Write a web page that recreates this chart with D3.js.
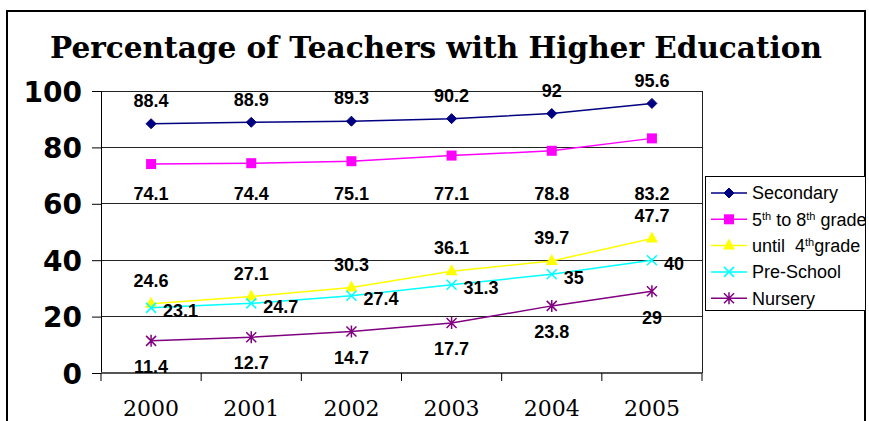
<!DOCTYPE html>
<html>
<head>
<meta charset="utf-8">
<script src="https://cdn.jsdelivr.net/npm/d3@7/dist/d3.min.js"></script>
<style>
  html, body { margin: 0; padding: 0; background: #fff; }
  svg { display: block; }
</style>
</head>
<body>
<svg id="chart" width="869" height="421"></svg>
<script>
// Chart data
const years = ["2000", "2001", "2002", "2003", "2004", "2005"];
const secondary = [88.4, 88.9, 89.3, 90.2, 92, 95.6];
const grade5to8 = [74.1, 74.4, 75.1, 77.1, 78.8, 83.2];
const until4 = [24.6, 27.1, 30.3, 36.1, 39.7, 47.7];
const preSchool = [23.1, 24.7, 27.4, 31.3, 35, 40];
const nursery = [11.4, 12.7, 14.7, 17.7, 23.8, 29];
const yTicks = [0, 20, 40, 60, 80, 100];

const series = [
  { name: "Secondary", values: secondary, color: "#000080", marker: "diamond", label: "above" },
  { name: "5th to 8th grade", values: grade5to8, color: "#FF00FF", marker: "square", label: "band" },
  { name: "until 4th grade", values: until4, color: "#FFFF00", marker: "triangle", label: "above" },
  { name: "Pre-School", values: preSchool, color: "#00FFFF", marker: "cross", label: "right" },
  { name: "Nursery", values: nursery, color: "#800080", marker: "star", label: "below" }
];

const svg = d3.select("#chart");
const plot = { left: 101, right: 702, top: 91, bottom: 373 };

const x = d3.scaleBand().domain(years).range([plot.left, plot.right]);
const y = d3.scaleLinear().domain([0, 100]).range([plot.bottom, plot.top]);
const cx = d => x(d) + x.bandwidth() / 2;

// Outer frame
svg.append("path")
  .attr("d", `M7,421 V11 H865 V421`)
  .attr("fill", "none").attr("stroke", "#000").attr("stroke-width", 2);

// Title
svg.append("text")
  .attr("x", 50).attr("y", 58)
  .attr("font-family", "DejaVu Serif")
  .attr("font-weight", "bold")
  .attr("font-size", 29)
  .attr("textLength", 772)
  .attr("lengthAdjust", "spacingAndGlyphs")
  .attr("fill", "#000")
  .text("Percentage of Teachers with Higher Education");

// Gridlines
svg.append("g").selectAll("line").data(yTicks.filter(t => t > 0)).join("line")
  .attr("x1", plot.left).attr("x2", plot.right)
  .attr("y1", d => y(d)).attr("y2", d => y(d))
  .attr("stroke", "#222").attr("stroke-width", 1)
  .attr("shape-rendering", "crispEdges");

// Plot frame right edge
svg.append("line")
  .attr("x1", plot.right).attr("x2", plot.right)
  .attr("y1", plot.top).attr("y2", plot.bottom)
  .attr("stroke", "#222").attr("shape-rendering", "crispEdges");

// Y axis
const yAxis = svg.append("g")
  .attr("transform", `translate(${plot.left},0)`)
  .call(d3.axisLeft(y).tickValues(yTicks).tickSize(9).tickPadding(10).tickFormat(d3.format("d")));
yAxis.select(".domain").attr("stroke", "#000");
yAxis.selectAll(".tick line").attr("stroke", "#000");
yAxis.selectAll("text")
  .attr("font-family", "DejaVu Sans")
  .attr("font-weight", "bold")
  .attr("font-size", 28)
  .attr("fill", "#000")
  .attr("dy", "0.36em");

// X axis with ticks at category boundaries
const xAxisG = svg.append("g").attr("transform", `translate(0,${plot.bottom})`);
xAxisG.append("line")
  .attr("x1", plot.left).attr("x2", plot.right)
  .attr("y1", 0).attr("y2", 0)
  .attr("stroke", "#555").attr("stroke-width", 2);
const bounds = years.map(d => x(d)).concat([plot.right]);
xAxisG.selectAll("line.tk").data(bounds).join("line")
  .attr("class", "tk")
  .attr("x1", d => d).attr("x2", d => d)
  .attr("y1", 0).attr("y2", 8)
  .attr("stroke", "#000");
xAxisG.selectAll("text").data(years).join("text")
  .attr("x", d => cx(d)).attr("y", 43)
  .attr("text-anchor", "middle")
  .attr("font-family", "DejaVu Serif")
  .attr("font-size", 22)
  .attr("fill", "#000")
  .text(d => d);

// Marker shapes
function drawMarker(g, type, color, px, py) {
  if (type === "diamond") {
    g.append("path").attr("d", `M${px},${py-5}L${px+5},${py}L${px},${py+5}L${px-5},${py}Z`)
      .attr("fill", color).attr("stroke", color);
  } else if (type === "square") {
    g.append("rect").attr("x", px - 5).attr("y", py - 5).attr("width", 10).attr("height", 10)
      .attr("fill", color);
  } else if (type === "triangle") {
    g.append("path").attr("d", `M${px},${py-7}L${px+6},${py+4}L${px-6},${py+4}Z`)
      .attr("fill", color);
  } else if (type === "cross") {
    g.append("path").attr("d", `M${px-5},${py-5}L${px+5},${py+5}M${px+5},${py-5}L${px-5},${py+5}`)
      .attr("stroke", color).attr("stroke-width", 1.5).attr("fill", "none");
  } else if (type === "star") {
    g.append("path").attr("d", `M${px-5},${py-5}L${px+5},${py+5}M${px+5},${py-5}L${px-5},${py+5}M${px},${py-6}L${px},${py+6}`)
      .attr("stroke", color).attr("stroke-width", 1.5).attr("fill", "none");
  }
}

const line = d3.line().x((d, i) => cx(years[i])).y(d => y(d));
const lines = svg.append("g");
series.forEach(s => {
  const g = lines.append("g");
  g.append("path").datum(s.values)
    .attr("d", line)
    .attr("fill", "none")
    .attr("stroke", s.color)
    .attr("stroke-width", 1.5);
  s.values.forEach((v, i) => drawMarker(g, s.marker, s.color, cx(years[i]), y(v)));
});

// Value labels
const labels = svg.append("g")
  .attr("font-family", "Liberation Sans")
  .attr("font-weight", "bold")
  .attr("font-size", 18)
  .attr("fill", "#000");
series.forEach(s => {
  s.values.forEach((v, i) => {
    const px = cx(years[i]), py = y(v);
    const t = labels.append("text").text(v);
    if (s.label === "above") {
      t.attr("x", px).attr("y", py - 23).attr("text-anchor", "middle").attr("dy", "0.35em");
    } else if (s.label === "below") {
      t.attr("x", px).attr("y", py + 26).attr("text-anchor", "middle").attr("dy", "0.35em");
    } else if (s.label === "right") {
      t.attr("x", px + 12).attr("y", py + 3).attr("text-anchor", "start").attr("dy", "0.35em");
    } else {
      // labels for this series sit in a row just under the 80 gridline
      t.attr("x", px).attr("y", y(80) + 46).attr("text-anchor", "middle").attr("dy", "0.35em");
    }
  });
});

// Legend
const legend = svg.append("g");
legend.append("rect")
  .attr("x", 705.5).attr("y", 176.5).attr("width", 160).attr("height", 134)
  .attr("fill", "#fff").attr("stroke", "#000");
const legendLabels = [
  ["Secondary"],
  ["5", "th", " to 8", "th", " grade"],
  ["until  4", "th", "grade"],
  ["Pre-School"],
  ["Nursery"]
];
series.forEach((s, i) => {
  const ly = 193 + i * 26.3;
  legend.append("line")
    .attr("x1", 711).attr("x2", 747).attr("y1", ly).attr("y2", ly)
    .attr("stroke", s.color).attr("stroke-width", 1.5);
  drawMarker(legend, s.marker, s.color, 729, ly);
  const t = legend.append("text")
    .attr("x", 752).attr("y", ly).attr("dy", "0.35em")
    .attr("font-family", "Liberation Sans")
    .attr("font-size", 18)
    .attr("fill", "#000")
    .style("white-space", "pre");
  legendLabels[i].forEach(part => {
    const sup = part === "th";
    t.append("tspan")
      .attr("font-size", sup ? 11 : 18)
      .attr("baseline-shift", sup ? "super" : null)
      .text(part);
  });
});
</script>
</body>
</html>
